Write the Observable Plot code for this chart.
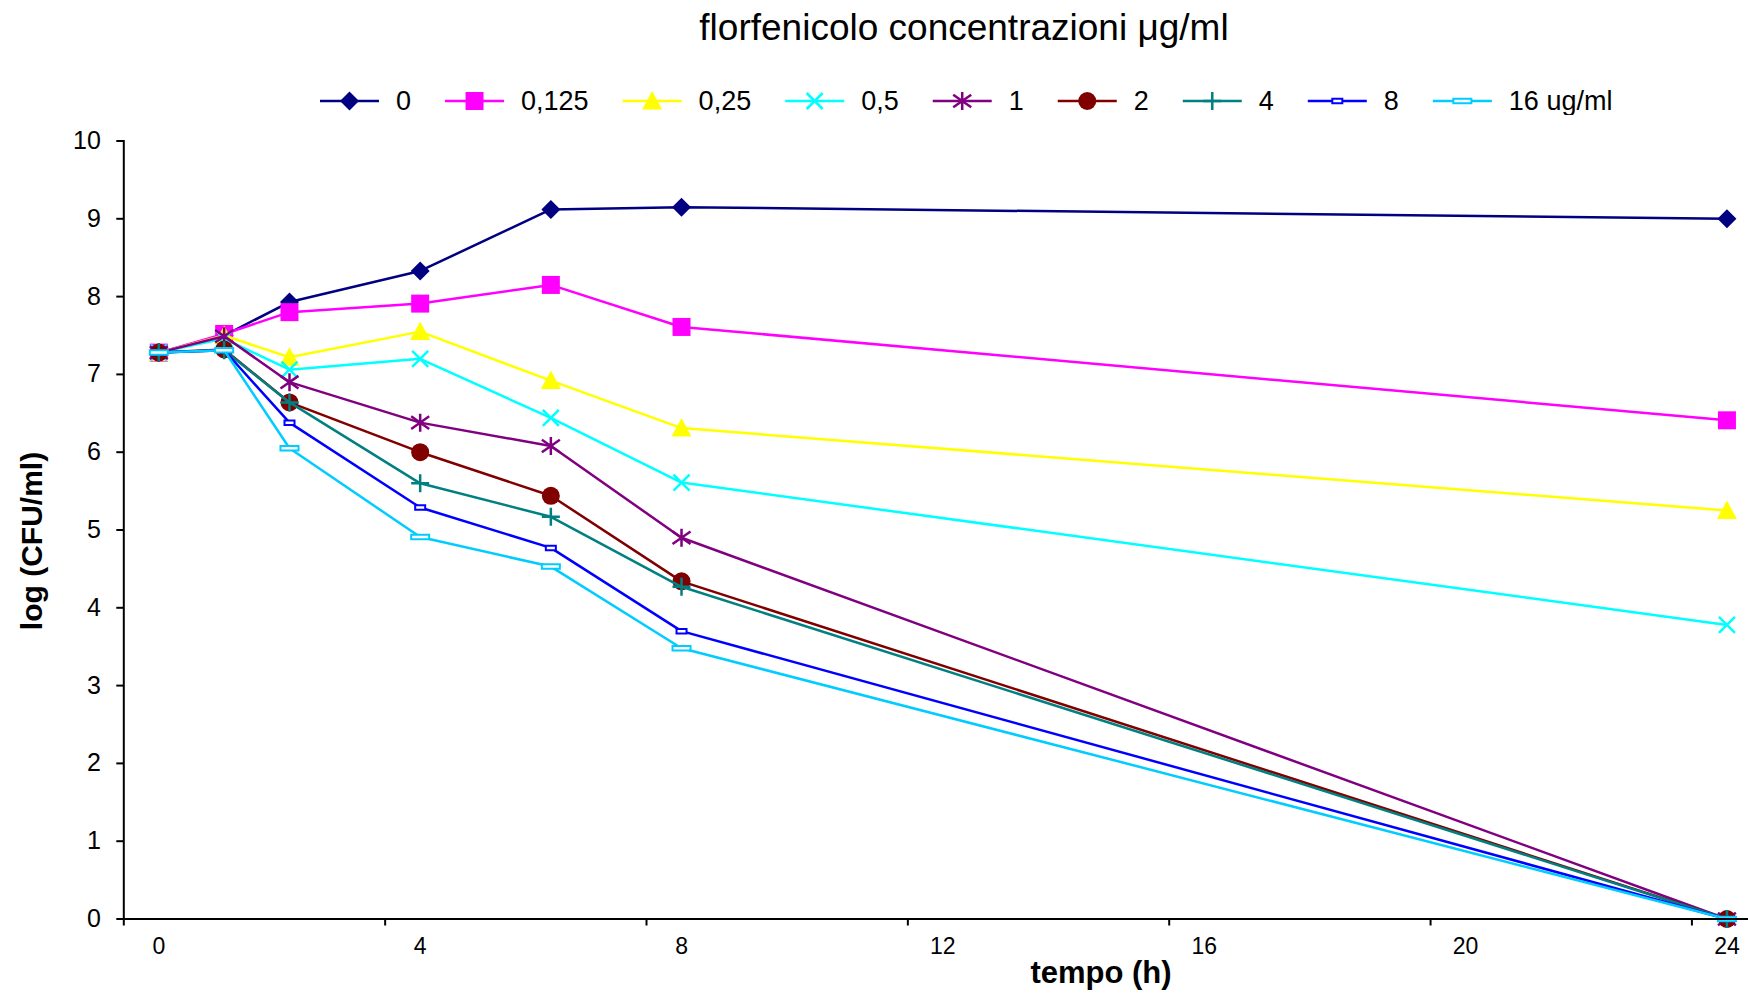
<!DOCTYPE html>
<html>
<head>
<meta charset="utf-8">
<script src="https://cdn.jsdelivr.net/npm/d3@7"></script>
<script src="https://cdn.jsdelivr.net/npm/@observablehq/plot@0.6"></script>
<style>
  html, body { margin: 0; padding: 0; background: #fff; }
  body { width: 1748px; height: 997px; overflow: hidden; font-family: "Liberation Sans", Arial, sans-serif; }
  #title { height: 55px; line-height: 55px; font-size: 37px; text-align: center; padding-left: 180px; box-sizing: border-box; color: #000; }
  #legend { height: 60px; }
  #legend svg { display: block; }
</style>
</head>
<body>
<div id="title">florfenicolo concentrazioni μg/ml</div>
<div id="legend"></div>
<div id="chart"></div>
<script>
// ---- data ----
const hours = [0, 1, 2, 4, 6, 8, 24];
const seriesNames = ["0", "0,125", "0,25", "0,5", "1", "2", "4", "8", "16 ug/ml"];
const conc0    = [7.28, 7.50, 7.93, 8.33, 9.12, 9.15, 9.00];
const conc0125 = [7.28, 7.52, 7.80, 7.91, 8.15, 7.61, 6.41];
const conc025  = [7.28, 7.50, 7.22, 7.55, 6.92, 6.31, 5.25];
const conc05   = [7.28, 7.46, 7.06, 7.20, 6.44, 5.61, 3.78];
const conc1    = [7.28, 7.49, 6.90, 6.38, 6.08, 4.90, 0];
const conc2    = [7.28, 7.32, 6.64, 6.00, 5.44, 4.34, 0];
const conc4    = [7.28, 7.31, 6.64, 5.60, 5.17, 4.27, 0];
const conc8    = [7.28, 7.31, 6.38, 5.29, 4.77, 3.70, 0];
const conc16   = [7.28, 7.31, 6.05, 4.91, 4.53, 3.48, 0];
const seriesValues = [conc0, conc0125, conc025, conc05, conc1, conc2, conc4, conc8, conc16];
const yTicks = [0, 1, 2, 3, 4, 5, 6, 7, 8, 9, 10];
const xTickLabels = [0, 4, 8, 12, 16, 20, 24];
const xTickMarks = [-0.536, 3.464, 7.464, 11.464, 15.464, 19.464, 23.464];

// ---- styles ----
const colors = ["#000080", "#FF00FF", "#FFFF00", "#00FFFF", "#800080", "#800000", "#008080", "#0000FF", "#00CCFF"];
const rOf = size => Math.sqrt(size / Math.PI);
const symDiamond = { draw(c, s) { const r = rOf(s); c.moveTo(0, -r); c.lineTo(r, 0); c.lineTo(0, r); c.lineTo(-r, 0); c.closePath(); } };
const symSquare = { draw(c, s) { const r = rOf(s); c.rect(-r, -r, 2 * r, 2 * r); } };
const symTriangle = { draw(c, s) { const r = rOf(s); c.moveTo(0, -r); c.lineTo(r, r * 0.85); c.lineTo(-r, r * 0.85); c.closePath(); } };
const symX = { draw(c, s) { const r = rOf(s); c.moveTo(-r, -r); c.lineTo(r, r); c.moveTo(r, -r); c.lineTo(-r, r); } };
const symStar = { draw(c, s) { const r = rOf(s); c.moveTo(-r, -r * 0.7); c.lineTo(r, r * 0.7); c.moveTo(r, -r * 0.7); c.lineTo(-r, r * 0.7); c.moveTo(0, -r); c.lineTo(0, r); } };
const symCircle = { draw(c, s) { const r = rOf(s); c.moveTo(r, 0); c.arc(0, 0, r, 0, 2 * Math.PI); } };
const symPlus = { draw(c, s) { const r = rOf(s); c.moveTo(-r, 0); c.lineTo(r, 0); c.moveTo(0, -r); c.lineTo(0, r); } };
const symDashSmall = { draw(c, s) { const r = rOf(s); c.rect(-r, -r * 0.45, 2 * r, r * 0.9); } };
const symDashLong = { draw(c, s) { const r = rOf(s); c.rect(-r, -r * 0.25, 2 * r, r * 0.5); } };
const markerStyles = [
  { symbol: symDiamond, r: 9.5, fill: true },
  { symbol: symSquare, r: 9, fill: true },
  { symbol: symTriangle, r: 10, fill: true },
  { symbol: symX, r: 8, fill: false },
  { symbol: symStar, r: 9, fill: false },
  { symbol: symCircle, r: 9, fill: true },
  { symbol: symPlus, r: 9, fill: false },
  { symbol: symDashSmall, r: 5, fill: "outline" },
  { symbol: symDashLong, r: 9, fill: "outline" }
];

const rows = seriesNames.flatMap((name, i) => hours.map((h, j) => ({ series: name, hour: h, logCFU: seriesValues[i][j] })));

const font = '"Liberation Sans", Arial, sans-serif';
const headerH = 115;
const svgH = 997 - headerH;

const marks = [];
seriesNames.forEach((name, i) => {
  const data = rows.filter(d => d.series === name);
  const m = markerStyles[i];
  marks.push(Plot.line(data, { x: "hour", y: "logCFU", stroke: colors[i], strokeWidth: 2.5 }));
  marks.push(Plot.dot(data, {
    x: "hour", y: "logCFU", symbol: m.symbol, r: m.r,
    fill: m.fill === true ? colors[i] : (m.fill === "outline" ? "white" : "none"),
    stroke: colors[i],
    strokeWidth: m.fill === true ? 0 : (m.fill === "outline" ? 2 : 2.5)
  }));
});

const chart = Plot.plot({
  width: 1748,
  height: svgH,
  marginTop: 140.5 - headerH,
  marginBottom: 78.5,
  marginLeft: 123.3,
  marginRight: 0,
  style: { fontFamily: font, background: "white", color: "black", overflow: "visible" },
  x: { domain: [-0.536, 24.33] },
  y: { domain: [0, 10] },
  marks: [
    Plot.axisY({ ticks: yTicks, tickSize: 7, tickPadding: 16, fontSize: 25, label: null, strokeWidth: 2 }),
    Plot.axisX({ ticks: xTickMarks, tickSize: 7, tickFormat: () => "", label: null, strokeWidth: 2 }),
    Plot.axisX({ ticks: xTickLabels, tickSize: 0, tickPadding: 19, fontSize: 23, label: null }),
    ...marks,
    Plot.frame({ anchor: "left", strokeWidth: 2 }),
    Plot.frame({ anchor: "bottom", strokeWidth: 2 })
  ]
});
document.getElementById("chart").appendChild(chart);

const svg = d3.select(chart);
svg.append("text")
  .attr("x", 1101).attr("y", 983 - headerH)
  .attr("text-anchor", "middle")
  .attr("font-family", font).attr("font-weight", "bold").attr("font-size", 31)
  .text("tempo (h)");
svg.append("text")
  .attr("transform", `translate(${31},${541 - headerH}) rotate(-90)`)
  .attr("text-anchor", "middle").attr("dominant-baseline", "central")
  .attr("font-family", font).attr("font-weight", "bold").attr("font-size", 30)
  .text("log (CFU/ml)");

// ---- legend ----
const leg = d3.select("#legend").append("svg").attr("width", 1748).attr("height", 60);
const legY = 101 - 55;
let xPos = 320;
seriesNames.forEach((name, i) => {
  const m = markerStyles[i];
  const g = leg.append("g");
  g.append("line").attr("x1", xPos).attr("x2", xPos + 59).attr("y1", legY).attr("y2", legY)
    .attr("stroke", colors[i]).attr("stroke-width", 2.5);
  g.append("path")
    .attr("transform", `translate(${xPos + 29.5},${legY})`)
    .attr("d", d3.symbol(m.symbol, m.r * m.r * Math.PI)())
    .attr("fill", m.fill === true ? colors[i] : (m.fill === "outline" ? "white" : "none"))
    .attr("stroke", colors[i])
    .attr("stroke-width", m.fill === true ? 0 : (m.fill === "outline" ? 2 : 2.5));
  const t = g.append("text").attr("x", xPos + 76).attr("y", legY)
    .attr("dominant-baseline", "central")
    .attr("font-family", font).attr("font-size", 27).text(name);
  const w = t.node().getComputedTextLength();
  xPos = xPos + 76 + w + 34;
});
</script>
</body>
</html>
